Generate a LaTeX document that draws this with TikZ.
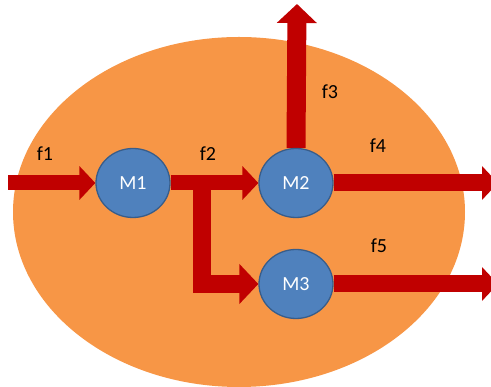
\documentclass[tikz,border=0pt]{standalone}
\usepackage{fontspec}
\setmainfont{Carlito}
\usetikzlibrary{arrows.meta,shapes.geometric}
\definecolor{orangefill}{HTML}{F79646}
\definecolor{bluefill}{HTML}{4F81BD}
\definecolor{blueline}{HTML}{385D8A}
\definecolor{flowred}{HTML}{C00000}
\pgfdeclarelayer{back}
\pgfdeclarelayer{mid}
\pgfsetlayers{back,mid,main}
\tikzset{
  machine/.style={ellipse, fill=bluefill, draw=blueline, line width=1.3pt,
    minimum width=74pt, minimum height=69pt, inner sep=0pt,
    text=white, font=\fontsize{20}{24}\selectfont, text height=13pt, text depth=0pt},
  flowlabel/.style={anchor=base, inner sep=0pt, font=\fontsize{20}{24}\selectfont},
  flow/.style={draw=flowred, line width=#1, line join=miter,
    -{Triangle[length=16pt, width=33pt]}},
  flow/.default=16pt,
  bigflow/.style={draw=flowred, line width=#1, line join=miter,
    -{Triangle[length=19pt, width=39pt]}},
  bigflow/.default=19pt,
}
\begin{document}
\begin{tikzpicture}[x=1pt,y=1pt]
\useasboundingbox (0,0) rectangle (491,387);
\begin{pgfonlayer}{back}
\clip (0,0) rectangle (491,387);
\fill[orangefill] (239,175) ellipse [x radius=226, y radius=175];
\end{pgfonlayer}
% machines
\node[machine] (M1) at (133,204) {M1};
\node[machine] (M2) at (296,204) {M2};
\node[machine] (M3) at (296,103) {M3};
% free ends
\coordinate (in) at (8,204);
\coordinate (out3) at (297,383);
\coordinate (out4) at (498,204);
\coordinate (out5) at (498,103);
\coordinate (split) at (202,204);
% flows
\begin{pgfonlayer}{mid}
\draw[flow=15pt] (in) -- (M1.west);
\draw[bigflow=18pt] (split) |- (M3.west);
\draw[flow=15pt] (M1.east) -- (M2.west);
\draw[bigflow] (M2.north) -- (out3);
\draw[flow=17pt] (M2.east) -- (out4);
\draw[flow=17pt] (M3.east) -- (out5);
\end{pgfonlayer}
% labels
\node[flowlabel] (l1) at (45,226) {f1};
\node[flowlabel] (l2) at (208,226) {f2};
\node[flowlabel] (l3) at (330,288) {f3};
\node[flowlabel] (l4) at (378,234) {f4};
\node[flowlabel] (l5) at (379,134) {f5};
\end{tikzpicture}
\end{document}
